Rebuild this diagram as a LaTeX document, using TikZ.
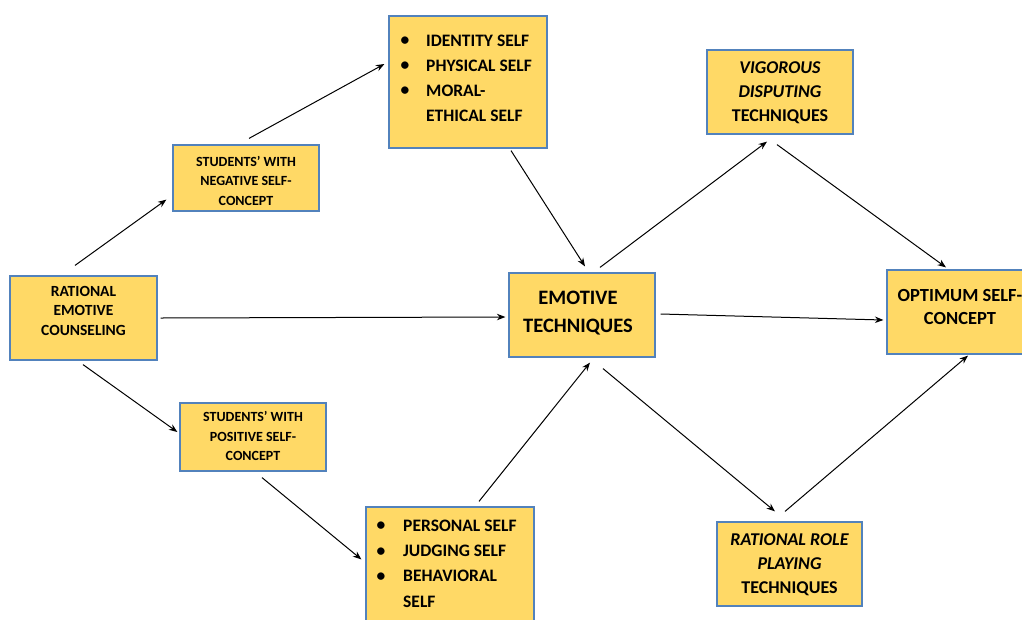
\documentclass[tikz,border=0pt]{standalone}
\usepackage{fontspec}
\setmainfont{Carlito}
\usetikzlibrary{arrows.meta,calc}
\definecolor{boxfill}{HTML}{FFD966}
\definecolor{boxline}{HTML}{5282BC}
\newcommand{\fs}[2]{\fontsize{#1}{#2}\selectfont\bfseries}
\begin{document}
\begin{tikzpicture}[x=1pt,y=-1pt,
  box/.style={draw=boxline, fill=boxfill, line width=1.2pt, inner sep=0pt},
  arr/.style={-{Stealth[length=8.5pt,width=6.5pt]}, line width=1pt, black},
  txt/.style={align=center, inner sep=0pt, anchor=north},
  ltxt/.style={align=left, inner sep=0pt, anchor=north west}]
\useasboundingbox (0,0) rectangle (1022,619);
% boxes
\node[box, minimum width=147pt, minimum height=84pt] (rec) at (83.5,318) {};
\node[box, minimum width=146pt, minimum height=66pt] (neg) at (246,178) {};
\node[box, minimum width=158pt, minimum height=132pt] (ident) at (468,82) {};
\node[box, minimum width=146pt, minimum height=68pt] (pos) at (253,437) {};
\node[box, minimum width=168pt, minimum height=130pt] (pers) at (450,572) {};
\node[box, minimum width=146pt, minimum height=84pt] (emo) at (582,315) {};
\node[box, minimum width=146pt, minimum height=84pt] (vig) at (780,92) {};
\node[box, minimum width=145pt, minimum height=84pt] (rat) at (789.5,564) {};
\node[box, minimum width=146pt, minimum height=84pt] (opt) at (960,312) {};
% texts
\node[txt, font=\fs{15.5}{19.6}] (trec) at (83.5,286) {RATIONAL\\EMOTIVE\\COUNSELING};
\node[txt, font=\fs{14}{19.5}] (tneg) at (246,156) {STUDENTS’ WITH\\NEGATIVE SELF-\\CONCEPT};
\node[txt, font=\fs{14}{19.5}] (tpos) at (253,411.5) {STUDENTS’ WITH\\POSITIVE SELF-\\CONCEPT};
\node[ltxt, font=\fs{17.5}{25}] (tident) at (426,34.5) {IDENTITY SELF\\PHYSICAL SELF\\MORAL-\\ETHICAL SELF};
\node[txt, anchor=north, font=\fs{17.5}{25}] (bident) at (405,37) {•\\•\\•};
\node[ltxt, font=\fs{17.5}{25.3}] (tpers) at (403,519.5) {PERSONAL SELF\\JUDGING SELF\\BEHAVIORAL\\SELF};
\node[txt, anchor=north, font=\fs{17.5}{25.3}] (bpers) at (381,522) {•\\•\\•};
\node[txt, font=\fs{20.5}{28}] (temo) at (578,291) {EMOTIVE\\TECHNIQUES};
\node[txt, font=\fs{18}{24}] (tvig) at (780,61.5) {\itshape VIGOROUS\\\itshape DISPUTING\\TECHNIQUES};
\node[txt, font=\fs{18}{24}] (trat) at (789.5,533.5) {\itshape RATIONAL ROLE\\\itshape PLAYING\\TECHNIQUES};
\node[txt, font=\fs{18.5}{23}] (topt) at (960,289) {OPTIMUM SELF-\\CONCEPT};
% connectors
\draw[arr] ($(rec.north)+(-8.5,-10)$) -- ($(neg.south west)+(-6,-12)$);
\draw[arr] ($(neg.north)+(3,-6)$) -- ($(ident.west)+(-4,-18)$);
\draw[arr] ($(rec.east)+(3,0)$) -- ($(emo.west)+(-3,2)$);
\draw[arr] ($(ident.south)+(43,2)$) -- ($(emo.north)+(3,-6)$);
\draw[arr] ($(rec.south)+(-0.5,4)$) -- ($(pos.west)+(-2,-5)$);
\draw[arr] ($(pos.south)+(9,6)$) -- ($(pers.north west)+(-4,53)$);
\draw[arr] ($(pers.north)+(29,-5)$) -- ($(emo.south)+(8,5)$);
\draw[arr] ($(emo.south)+(21,11)$) -- ($(rat.north)+(-14.5,-10)$);
\draw[arr] ($(rat.north)+(-4.5,-10)$) -- ($(opt.south)+(8,1)$);
\draw[arr] ($(emo.north)+(18,-5)$) -- ($(vig.south)+(-13,7)$);
\draw[arr] ($(vig.south)+(-3,10)$) -- ($(opt.north)+(-14,-2)$);
\draw[arr] ($(emo.east)+(5,-1)$) -- ($(opt.west)+(-3,8)$);
\end{tikzpicture}
\end{document}
